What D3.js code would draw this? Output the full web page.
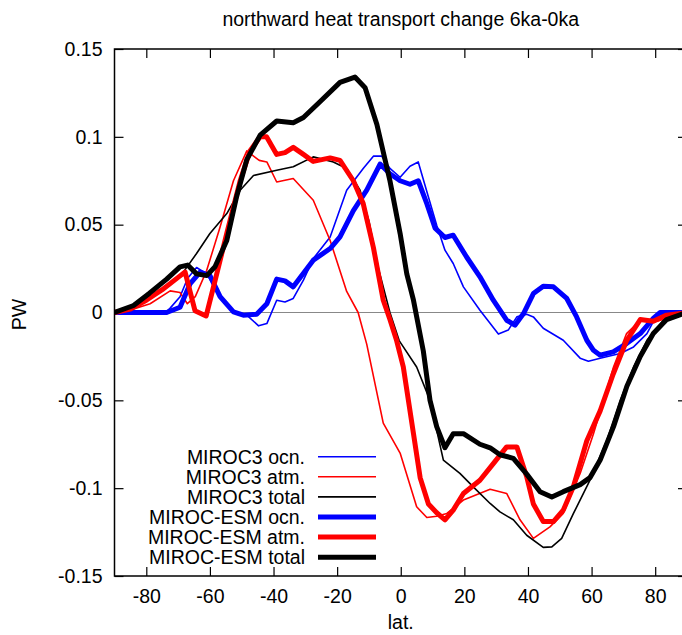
<!DOCTYPE html>
<html>
<head>
<meta charset="utf-8">
<script src="https://cdn.jsdelivr.net/npm/d3@7/dist/d3.min.js"></script>
<style>
  body { margin: 0; background: #fff; }
  svg { display: block; }
  text { font-family: "Liberation Sans", Arial, sans-serif; font-size: 19.5px; fill: #000; }
  .axis path.domain { display: none; }
  .axis line { stroke: #000; stroke-width: 1.2; }
</style>
</head>
<body>
<svg width="682" height="635"></svg>
<script>
// lat / PW pairs
var m3Ocn = [[-90,0],[-74,0],[-72.5,0.0025],[-69.4,0.009],[-67,0.0195],[-64.2,0.0256],[-61,0.022],[-56.8,0.009],
  [-52.6,0],[-48.4,-0.0015],[-44.7,-0.0076],[-42.1,-0.0063],[-39,0.007],[-36.4,0.006],[-33.8,0.008],[-30.6,0.0184],
  [-27.5,0.0307],[-22.2,0.043],[-17,0.0696],[-11.8,0.082],[-8.6,0.089],[-6,0.089],[-3.4,0.082],[-0.2,0.077],
  [2.9,0.0833],[5.5,0.0857],[8.7,0.0658],[11.3,0.0497],[13.9,0.0355],[16.5,0.0279],[19.7,0.0146],[24.9,0.0013],
  [30.7,-0.0123],[33.8,-0.01],[36.5,-0.0025],[39.6,-0.001],[41.7,-0.0025],[44.8,-0.009],[51.1,-0.0158],[56.4,-0.026],
  [59,-0.0277],[62.7,-0.026],[69,-0.0233],[73.2,-0.0196],[77.4,-0.012],[80.5,-0.0015],[90,0]];

var m3Atm = [[-90,0],[-84,0.002],[-78.8,0.005],[-72.5,0.0123],[-69.4,0.0114],[-67.1,0.005],[-64.6,0.009],[-61,0.024],
  [-56.8,0.0487],[-52.6,0.075],[-48.4,0.092],[-44.5,0.0866],[-42.1,0.0857],[-39,0.0743],[-33.8,0.0763],[-27.5,0.0639],
  [-22.2,0.041],[-17,0.012],[-13.4,0],[-10.7,-0.018],[-5.5,-0.063],[-0.2,-0.08],[5,-0.1106],[8.2,-0.1167],
  [11.3,-0.116],[14.5,-0.1144],[19.7,-0.1068],[28.1,-0.1006],[33.3,-0.103],[37.5,-0.118],[41.7,-0.1286],[46.9,-0.122],
  [51.1,-0.1144],[56.4,-0.0916],[60.6,-0.069],[66.9,-0.031],[71,-0.012],[75.3,-0.0044],[80.5,-0.005],[90,0]];

var m3Total = [[-90,0],[-84,0.003],[-78.8,0.008],[-69.4,0.0203],[-64.2,0.0336],[-60,0.045],[-54.7,0.0563],[-50.5,0.0696],
  [-46.3,0.078],[-39,0.081],[-33.8,0.083],[-27.5,0.0886],[-21.2,0.0857],[-17,0.082],[-12.8,0.0696],[-10,0.052],
  [-7,0.025],[-3.4,0],[-0.5,-0.016],[5,-0.031],[9.2,-0.05],[13.4,-0.084],[18.6,-0.0916],[22.8,-0.0993],
  [28.1,-0.1087],[31.2,-0.1135],[35.4,-0.118],[39.6,-0.1268],[44.8,-0.1337],[47.5,-0.1334],[50.6,-0.1286],[54.3,-0.1144],
  [59.5,-0.0954],[64.8,-0.0727],[69,-0.05],[73.2,-0.031],[77.4,-0.0158],[82.6,-0.0044],[90,0]];

var esmOcn = [[-90,0],[-73.6,0],[-69.4,0.003],[-66.2,0.0165],[-63.1,0.023],[-60,0.021],[-56.8,0.009],[-52.6,0.0003],
  [-49.5,-0.0015],[-45.3,-0.001],[-42.1,0.005],[-39,0.019],[-36.4,0.018],[-33.8,0.0146],[-27.5,0.0298],[-22.2,0.0364],
  [-19.1,0.043],[-14.9,0.058],[-10.7,0.0696],[-6.5,0.0845],[-3.4,0.079],[-0.2,0.075],[2.9,0.073],[5.5,0.075],
  [8.2,0.062],[10.8,0.048],[13.9,0.0427],[16.5,0.044],[20.7,0.0316],[24.9,0.0203],[29.1,0.007],[33.3,-0.0044],
  [35.9,-0.0072],[38.6,-0.0006],[41.7,0.0108],[44.8,0.015],[48,0.0146],[52.2,0.008],[55.3,-0.0025],[58.5,-0.0158],
  [60.6,-0.0215],[62.7,-0.0243],[66.8,-0.0224],[71,-0.0177],[75.3,-0.012],[79.4,-0.0034],[81.5,0],[90,0]];

var esmAtm = [[-90,0],[-85,0.002],[-80,0.007],[-75,0.013],[-70,0.02],[-67.8,0.023],[-64.7,0.001],[-61.2,-0.002],
  [-58.4,0.018],[-54.7,0.045],[-50.5,0.075],[-47.4,0.092],[-44.2,0.1],[-42.2,0.1],[-39,0.09],[-36.4,0.091],
  [-33.8,0.094],[-30.6,0.09],[-27.5,0.086],[-22.2,0.088],[-19.1,0.0866],[-14.9,0.075],[-11.8,0.062],[-8.6,0.037],
  [-5.5,0.007],[-3.4,-0.004],[-1.3,-0.016],[0.8,-0.031],[4,-0.069],[6.1,-0.094],[8.7,-0.109],[11.3,-0.114],
  [13.9,-0.118],[16.5,-0.1125],[19.7,-0.103],[24.9,-0.0955],[29.1,-0.086],[33.3,-0.0765],[36.5,-0.0765],[39.6,-0.0935],
  [41.7,-0.109],[44.8,-0.119],[48,-0.119],[51.1,-0.1125],[54.3,-0.099],[58.5,-0.073],[62.7,-0.056],[66.8,-0.035],
  [71,-0.016],[75.3,-0.004],[79.4,-0.005],[83.6,-0.0015],[90,0]];

var esmTotal = [[-90,0],[-84,0.004],[-79,0.011],[-73.6,0.019],[-69.4,0.026],[-67,0.027],[-64.2,0.022],[-61,0.021],
  [-58.4,0.026],[-54.7,0.041],[-51.6,0.066],[-48.4,0.087],[-44.2,0.101],[-39,0.109],[-33.8,0.108],[-30.6,0.111],
  [-25.4,0.12],[-19.1,0.131],[-14.4,0.134],[-11.2,0.128],[-7.5,0.107],[-3.4,0.075],[-0.2,0.045],[1.9,0.022],
  [4,0.007],[7.1,-0.022],[9.2,-0.05],[11.3,-0.065],[13.9,-0.077],[16.5,-0.069],[19.7,-0.069],[24.9,-0.075],
  [28.1,-0.077],[31.2,-0.081],[35.4,-0.083],[39.6,-0.092],[43.8,-0.102],[47.5,-0.105],[51.1,-0.102],[56.4,-0.098],
  [59.5,-0.094],[62.7,-0.084],[66.9,-0.065],[71.1,-0.042],[75.3,-0.025],[79.4,-0.012],[83.6,-0.004],[90,0]];

var seriesNames = ["MIROC3 ocn.", "MIROC3 atm.", "MIROC3 total", "MIROC-ESM ocn.", "MIROC-ESM atm.", "MIROC-ESM total"];
var xTicks = [-80, -60, -40, -20, 0, 20, 40, 60, 80];
var yTicks = [-0.15, -0.1, -0.05, 0, 0.05, 0.1, 0.15];

var svg = d3.select("svg"),
    margin = { top: 49, bottom: 59, left: 114.5, right: -5 },
    width = 682 - margin.left - margin.right,
    height = 635 - margin.top - margin.bottom;

var x = d3.scaleLinear().domain([-90, 90]).range([0, width]);
var y = d3.scaleLinear().domain([-0.15, 0.15]).range([height, 0]);

var g = svg.append("g")
  .attr("transform", "translate(" + margin.left + "," + margin.top + ")");

// zero line
g.append("line")
  .attr("x1", 0).attr("x2", width)
  .attr("y1", y(0)).attr("y2", y(0))
  .style("stroke", "#888").style("stroke-width", 1);

// axes, ticks pointing inward like gnuplot
g.append("g").attr("class", "axis")
  .attr("transform", "translate(0," + height + ")")
  .call(d3.axisBottom(x).tickValues(xTicks).tickSizeInner(-9).tickSizeOuter(0).tickPadding(13).tickFormat(String));
g.append("g").attr("class", "axis")
  .call(d3.axisTop(x).tickValues(xTicks).tickSizeInner(-9).tickSizeOuter(0).tickFormat(""));
g.append("g").attr("class", "axis")
  .call(d3.axisLeft(y).tickValues(yTicks).tickSizeInner(-9).tickSizeOuter(0).tickPadding(12).tickFormat(String));
g.append("g").attr("class", "axis")
  .attr("transform", "translate(" + width + ",0)")
  .call(d3.axisRight(y).tickValues(yTicks).tickSizeInner(-9).tickSizeOuter(0).tickFormat(""));
g.selectAll(".axis text").style("font-size", "19.5px").style("font-family", "Liberation Sans, Arial, sans-serif");

g.append("defs").append("clipPath").attr("id", "clip")
  .append("rect").attr("width", width).attr("height", height);

var line = d3.line()
  .x(function (d) { return x(d[0]); })
  .y(function (d) { return y(d[1]); });

var series = [
  { name: seriesNames[0], data: m3Ocn, color: "#0000ff", w: 1.6 },
  { name: seriesNames[1], data: m3Atm, color: "#ff0000", w: 1.6 },
  { name: seriesNames[2], data: m3Total, color: "#000000", w: 1.6 },
  { name: seriesNames[3], data: esmOcn, color: "#0000ff", w: 5 },
  { name: seriesNames[4], data: esmAtm, color: "#ff0000", w: 5 },
  { name: seriesNames[5], data: esmTotal, color: "#000000", w: 5 }
];

g.append("g").attr("clip-path", "url(#clip)")
  .selectAll("path")
  .data(series)
  .enter().append("path")
    .attr("d", function (d) { return line(d.data); })
    .style("fill", "none")
    .style("stroke", function (d) { return d.color; })
    .style("stroke-width", function (d) { return d.w; })
    .style("stroke-linejoin", "round");

// frame
g.append("rect")
  .attr("width", width).attr("height", height)
  .style("fill", "none").style("stroke", "#000").style("stroke-width", 1.5);

// legend
var legend = svg.append("g").attr("transform", "translate(0,456.7)");
var items = legend.selectAll("g.item")
  .data(series)
  .enter().append("g")
    .attr("class", "item")
    .attr("transform", function (d, i) { return "translate(0," + (i * 20.1) + ")"; });
items.append("text")
  .attr("x", 305).attr("dy", "0.35em")
  .style("text-anchor", "end")
  .text(function (d) { return d.name; });
items.append("line")
  .attr("x1", 318).attr("x2", 376)
  .style("stroke", function (d) { return d.color; })
  .style("stroke-width", function (d) { return d.w; });

// titles
svg.append("text")
  .attr("x", margin.left + x(0)).attr("y", 26)
  .style("text-anchor", "middle")
  .text("northward heat transport change 6ka-0ka");
svg.append("text")
  .attr("x", margin.left + x(0)).attr("y", 629)
  .style("text-anchor", "middle")
  .text("lat.");
svg.append("text")
  .attr("transform", "translate(26," + (margin.top + y(0) + 2) + ")rotate(-90)")
  .style("text-anchor", "middle")
  .text("PW");
</script>
</body>
</html>
